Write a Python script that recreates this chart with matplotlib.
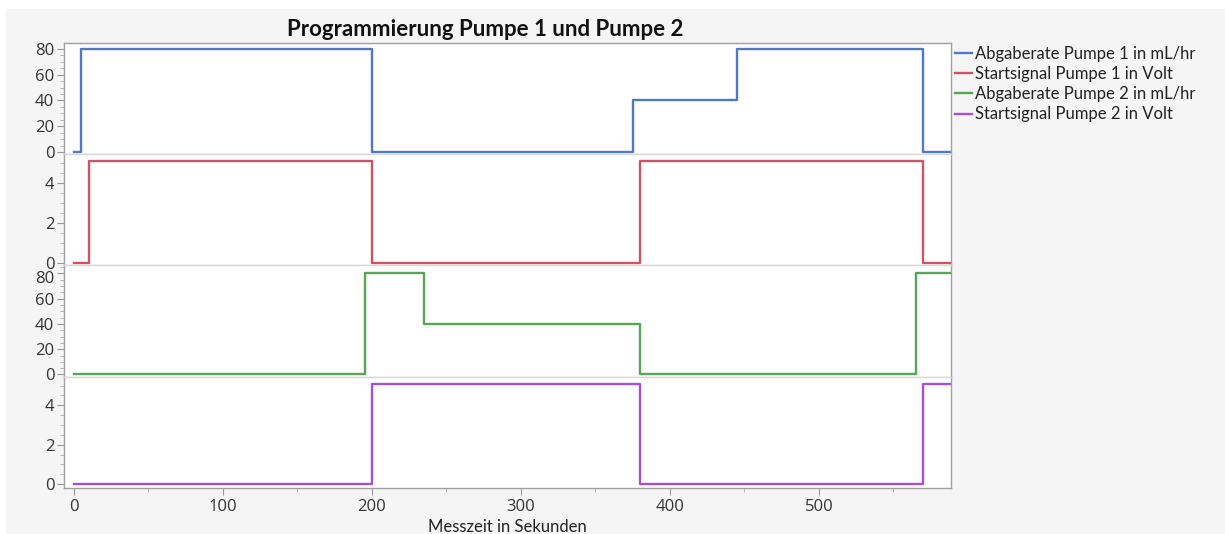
import matplotlib
matplotlib.use("Agg")
import matplotlib.pyplot as plt
from matplotlib.patches import Rectangle
from matplotlib.ticker import MultipleLocator
from matplotlib.transforms import ScaledTranslation

plt.rcParams['font.family'] = ['Lato', 'DejaVu Sans']

# ---- data ----
title = "Programmierung Pumpe 1 und Pumpe 2"
xlabel = "Messzeit in Sekunden"
labels = ["Abgaberate Pumpe 1 in mL/hr", "Startsignal Pumpe 1 in Volt",
          "Abgaberate Pumpe 2 in mL/hr", "Startsignal Pumpe 2 in Volt"]
colors = ["#4F79C4", "#CC5464", "#55A655", "#A44FD8"]

t_rate1 = [0, 5, 200, 375, 445, 570, 588]
v_rate1 = [0, 80, 0, 40, 80, 0, 0]
t_sig1 = [0, 10, 200, 380, 570, 588]
v_sig1 = [0, 5.1, 0, 5.1, 0, 0]
t_rate2 = [0, 195, 235, 380, 565, 588]
v_rate2 = [0, 80, 40, 0, 80, 80]
t_sig2 = [0, 200, 380, 570, 588]
v_sig2 = [0, 5.08, 0, 5.08, 5.08]

series = [(t_rate1, v_rate1), (t_sig1, v_sig1), (t_rate2, v_rate2), (t_sig2, v_sig2)]
ylims = [(-1.8, 84.7), (-0.1, 5.45), (-1.8, 86.2), (-0.2, 5.45)]
yticks = [[0, 20, 40, 60, 80], [0, 2, 4], [0, 20, 40, 60, 80], [0, 2, 4]]
yminor = [5, 0.5, 5, 0.5]

W, H = 1225, 534
fig = plt.figure(figsize=(W / 100, H / 100), dpi=100)
fig.patch.set_facecolor("white")
fig.patches.append(Rectangle((6 / W, 0), 1 - 6 / W, 1 - 9 / H, transform=fig.transFigure,
                             facecolor="#F5F5F5", edgecolor="none", zorder=-10))

left, right, top, bottom = 64 / W, 951 / W, 1 - 43 / H, 1 - 488 / H
gs = fig.add_gridspec(4, 1, left=left, right=right, top=top, bottom=bottom, hspace=0)
axes = [fig.add_subplot(gs[i]) for i in range(4)]

tickfont = {"family": ["Open Sans", "DejaVu Sans"], "size": 12}

lines = []
for i, ax in enumerate(axes):
    t, v = series[i]
    ln, = ax.plot(t, v, drawstyle="steps-post", color=colors[i], lw=1.7, label=labels[i])
    lines.append(ln)
    ax.set_facecolor("white")
    ax.set_xlim(-6.7, 588.6)
    ax.set_ylim(*ylims[i])
    ax.set_yticks(yticks[i])
    ax.set_yticklabels([str(v) for v in yticks[i]], fontdict=tickfont)
    ax.yaxis.set_minor_locator(MultipleLocator(yminor[i]))
    ax.xaxis.set_major_locator(MultipleLocator(100))
    ax.xaxis.set_minor_locator(MultipleLocator(50))
    ax.tick_params(axis="y", which="major", length=5, color="#999999",
                   labelcolor="#333333", pad=2)
    ax.tick_params(axis="y", which="minor", length=3, color="#aaaaaa")
    for s in ["left", "right"]:
        ax.spines[s].set_color("#a0a0a0")
    ax.spines["top"].set_color("#d8d8d8" if i > 0 else "#a0a0a0")
    ax.spines["bottom"].set_color("#d8d8d8" if i < 3 else "#a0a0a0")
    for s in ax.spines.values():
        s.set_linewidth(1.0)
    if i < 3:
        ax.tick_params(axis="x", which="both", bottom=False, labelbottom=False)
    else:
        ax.set_xticks([0, 100, 200, 300, 400, 500])
        ax.set_xticklabels(["0", "100", "200", "300", "400", "500"], fontdict=tickfont)
        ax.tick_params(axis="x", which="major", length=5, color="#999999",
                       labelcolor="#333333", pad=3)
        ax.tick_params(axis="x", which="minor", length=3, color="#aaaaaa")

# nudge the top label of the third panel down, as in the reference
top_tick = axes[2].yaxis.get_major_ticks()[-1]
top_tick.label1.set_transform(top_tick.label1.get_transform()
                              + ScaledTranslation(0, -4 / 100, fig.dpi_scale_trans))

axes[3].set_xlabel(xlabel, fontsize=12, color="#222222", labelpad=3)
fig.text(485 / W, 1 - 29 / H, title, ha="center", va="center", fontsize=16,
         fontweight="bold", color="#111111")

leg = fig.legend(handles=lines, labels=labels, loc="upper left",
                 bbox_to_anchor=(955 / W, 1 - 46 / H), frameon=False, fontsize=12,
                 handlelength=1.0, handletextpad=0.2, labelspacing=0.25,
                 borderaxespad=0, borderpad=0)
for txt in leg.get_texts():
    txt.set_color("#222222")

fig.savefig("out.png", dpi=100, facecolor=fig.get_facecolor())
